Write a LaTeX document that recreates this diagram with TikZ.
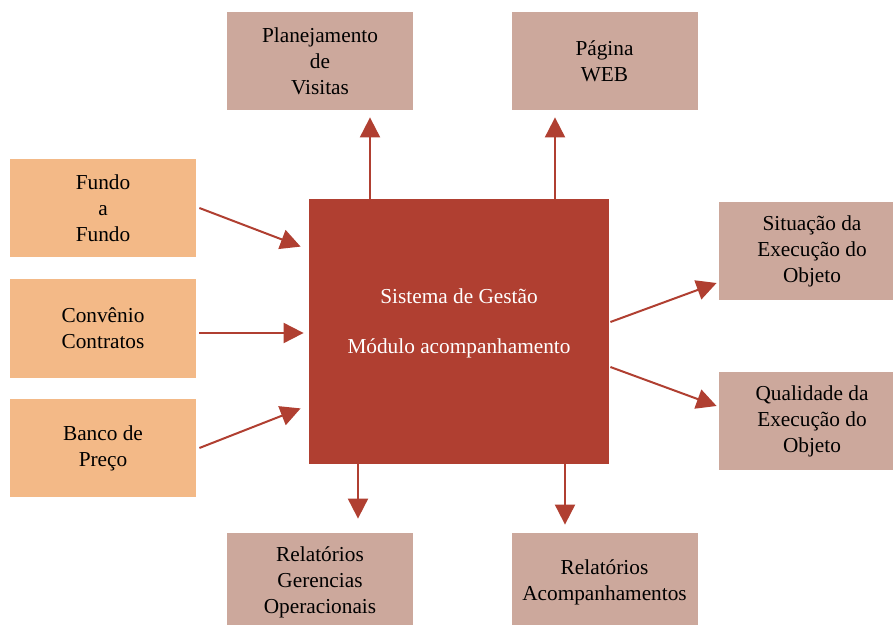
\documentclass[tikz,border=0pt]{standalone}
\usepackage{fontspec}
\setmainfont{Liberation Serif}
\usetikzlibrary{arrows.meta,calc}
\definecolor{gestao}{HTML}{B03F31}
\definecolor{entrada}{HTML}{F3B987}
\definecolor{saida}{HTML}{CCA89C}
\begin{document}
\begin{tikzpicture}[x=0.5pt,y=-0.5pt,
    font=\fontsize{10.65}{13}\selectfont,
    inbox/.style={fill=entrada,minimum width=93pt,minimum height=49pt,align=center,inner sep=0pt},
    outbox/.style={fill=saida,minimum width=93pt,minimum height=49pt,align=center,inner sep=0pt},
    arr/.style={-{Triangle[length=10pt,width=10pt]},gestao,line width=1pt}]
    \useasboundingbox (0,0) rectangle (893,625);
    \path (320,61) node [outbox] (plan) {Planejamento\\de\\Visitas};
    \path (604.5,61) node [outbox] (web) {Página\\WEB};
    \path (103,208) node [inbox] (fundo) {Fundo\\a\\Fundo};
    \path (103,328.5) node [inbox] (conv) {Convênio\\Contratos};
    \path (103,448) node [inbox] (banco) {Banco de\\Preço};
    \path (459,331.5) node [fill=gestao,minimum width=150pt,minimum height=132.5pt] (sis) {};
    \path (459,323) node [white,align=center] (sistxt) {Sistema de Gestão\\[12pt]Módulo acompanhamento};
    \path (812,251) node [outbox] (sit) {Situação da\\Execução do\\Objeto};
    \path (812,421) node [outbox] (qual) {Qualidade da\\Execução do\\Objeto};
    \path (320,582) node [outbox] (relger) {Relatórios\\Gerencias\\Operacionais};
    \path (604.5,582) node [outbox] (relacomp) {Relatórios\\Acompanhamentos};
    \path ($(plan.south)+(50,7)$) coordinate (plan-in);
    \path ($(web.south)+(-49.5,7)$) coordinate (web-in);
    \path ($(sis.north west)+(-8,48)$) coordinate (fundo-out);
    \path ($(sis.west)+(-5,1.5)$) coordinate (conv-out);
    \path ($(sis.south west)+(-8,-56)$) coordinate (banco-out);
    \path ($(sit.west)+(-2,32)$) coordinate (sit-in);
    \path ($(qual.west)+(-2,-15)$) coordinate (qual-in);
    \path ($(relger.north)+(38,-14)$) coordinate (relger-in);
    \path ($(relacomp.north)+(-39.5,-8)$) coordinate (relacomp-in);
    \draw [arr] (sis.north -| plan-in) -- (plan-in);
    \draw [arr] (sis.north -| web-in) -- (web-in);
    \draw [arr] ([xshift=1.5pt]fundo.east) -- (fundo-out);
    \draw [arr] ([xshift=1.5pt]conv.east |- conv-out) -- (conv-out);
    \draw [arr] ([xshift=1.5pt]banco.east) -- (banco-out);
    \draw [arr] ($(sis.east)+(1,-9.5)$) -- (sit-in);
    \draw [arr] ($(sis.east)+(1,35.5)$) -- (qual-in);
    \draw [arr] (sis.south -| relger-in) -- (relger-in);
    \draw [arr] (sis.south -| relacomp-in) -- (relacomp-in);
\end{tikzpicture}
\end{document}
